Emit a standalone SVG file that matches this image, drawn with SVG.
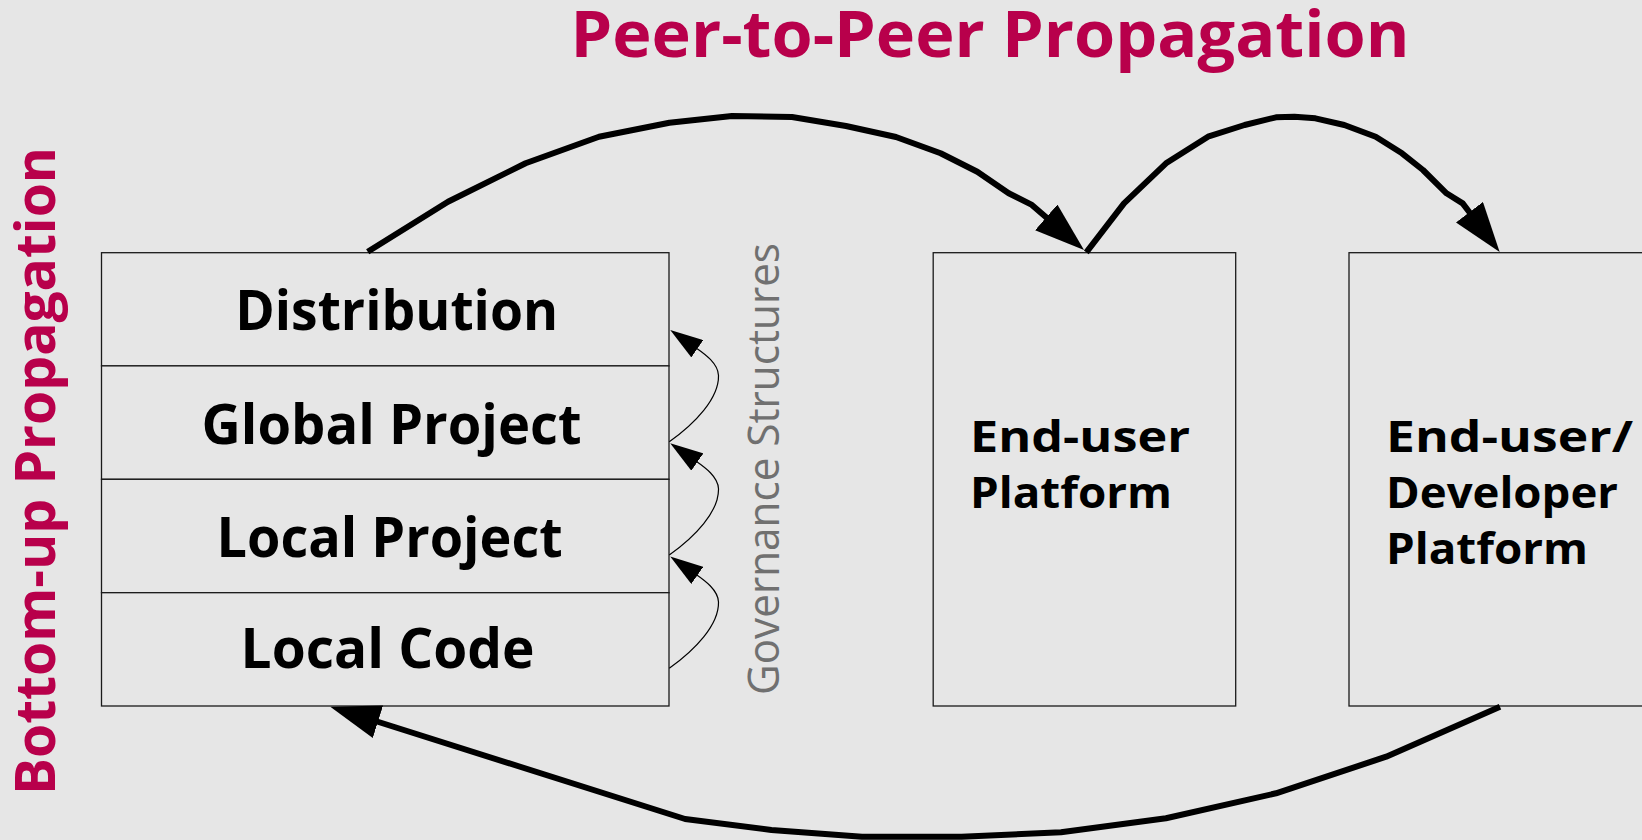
<svg xmlns="http://www.w3.org/2000/svg" width="1642" height="840" viewBox="0 0 1642 840">
<style>
.bg{fill:#e6e6e6}
.box{fill:#e6e6e6;stroke:#1a1a1a;stroke-width:1.3}
.lbl{font-family:"Open Sans","DejaVu Sans","Liberation Sans",sans-serif;font-weight:700;fill:#000}
.big{font-size:55px}
.mid{font-size:43px}
.title{font-family:"Open Sans","DejaVu Sans","Liberation Sans",sans-serif;font-weight:700;fill:#b8004b}
.gov{font-family:"Open Sans","DejaVu Sans","Liberation Sans",sans-serif;font-weight:400;font-size:44px;fill:#707070}
.thick{fill:none;stroke:#000;stroke-width:6;stroke-linejoin:round;marker-end:url(#bigArrow)}
.thin{fill:none;stroke:#000;stroke-width:1.2;marker-end:url(#smallArrow)}
</style>
<defs>
<marker id="bigArrow" markerUnits="userSpaceOnUse" viewBox="0 0 50 34" markerWidth="50" markerHeight="34" refX="1" refY="17" orient="auto">
<path d="M0,0 L50,17 L0,34 z" fill="#000"/>
</marker>
<marker id="smallArrow" markerUnits="userSpaceOnUse" viewBox="0 0 33 21" markerWidth="33" markerHeight="21" refX="1" refY="10.5" orient="auto">
<path d="M0,0 L33,10.5 L0,21 z" fill="#000"/>
</marker>
</defs>
<rect class="bg" x="0" y="0" width="1642" height="840"/>

<g id="title-p2p">
<text class="title" x="570.5" y="56.7" font-size="64" textLength="839" lengthAdjust="spacingAndGlyphs">Peer-to-Peer Propagation</text>
</g>
<g id="title-bottomup">
<text class="title" font-size="55" transform="translate(55,795) rotate(-90)" x="0" y="0" textLength="648" lengthAdjust="spacingAndGlyphs">Bottom-up Propagation</text>
</g>
<g id="label-governance">
<text class="gov" transform="translate(779,695) rotate(-90)" x="0" y="0" textLength="452" lengthAdjust="spacingAndGlyphs">Governance Structures</text>
</g>

<g id="node-distribution">
<rect class="box" x="101.5" y="252.7" width="567.5" height="113.2"/>
<text class="lbl big" x="396.7" y="330" text-anchor="middle" textLength="323" lengthAdjust="spacingAndGlyphs">Distribution</text>
</g>
<g id="node-global-project">
<rect class="box" x="101.5" y="365.9" width="567.5" height="113.4"/>
<text class="lbl big" x="391.5" y="443.5" text-anchor="middle" textLength="380" lengthAdjust="spacingAndGlyphs">Global Project</text>
</g>
<g id="node-local-project">
<rect class="box" x="101.5" y="479.3" width="567.5" height="113.4"/>
<text class="lbl big" x="389.6" y="556.5" text-anchor="middle" textLength="346" lengthAdjust="spacingAndGlyphs">Local Project</text>
</g>
<g id="node-local-code">
<rect class="box" x="101.5" y="592.7" width="567.5" height="113.3"/>
<text class="lbl big" x="387.6" y="668" text-anchor="middle" textLength="294" lengthAdjust="spacingAndGlyphs">Local Code</text>
</g>

<g id="node-enduser-platform">
<rect class="box" x="933.2" y="252.7" width="302.5" height="453.3"/>
<text class="lbl mid" x="970" y="451.7" textLength="220" lengthAdjust="spacingAndGlyphs">End-user</text>
<text class="lbl mid" x="970" y="508.3" textLength="202" lengthAdjust="spacingAndGlyphs">Platform</text>
</g>
<g id="node-enduser-developer-platform">
<rect class="box" x="1349" y="252.7" width="303" height="453.3"/>
<text class="lbl mid" x="1386" y="451.7" textLength="247" lengthAdjust="spacingAndGlyphs">End-user/</text>
<text class="lbl mid" x="1386" y="508.3" textLength="232" lengthAdjust="spacingAndGlyphs">Developer</text>
<text class="lbl mid" x="1386" y="564" textLength="202" lengthAdjust="spacingAndGlyphs">Platform</text>
</g>

<g id="connectors">
<path class="thick" d="M367.7,251.7 L448,201.7 L525.6,163.3 L599,136.7 L669.4,122.7 L732,116 L792,117 L846,126 L896,137 L940.6,153.3 L977.3,171.7 L1008.7,193.3 L1031.9,204.9 L1047,218"/>
<path class="thick" d="M1086.3,252.3 L1124,203.3 L1166,163.3 L1208,136.7 L1244.6,125 L1276,117.3 L1294.4,116.7 L1315.4,118.3 L1344.3,125 L1375.7,136.7 L1402,153.3 L1423,170 L1446.5,193.3 L1462.7,203.4 L1470,213"/>
<path class="thick" d="M1500,706.7 L1386.2,756.7 L1276,793.3 L1166,818.3 L1061,832.3 L961.5,836.7 L862,836.7 L771.4,830 L685.1,819 L377,721.5"/>
<path class="thin" d="M669.3,668.3 C695,650 719,625 718.5,602 C718,590 704.7,580.5 696.5,574.8"/>
<path class="thin" d="M669.3,555 C695,536.7 719,511.7 718.5,488.7 C718,476.7 704.7,467.2 696.5,461.5"/>
<path class="thin" d="M669.3,441.7 C695,423.4 719,398.4 718.5,375.4 C718,363.4 704.7,353.9 696.5,348.2"/>
</g>
</svg>
